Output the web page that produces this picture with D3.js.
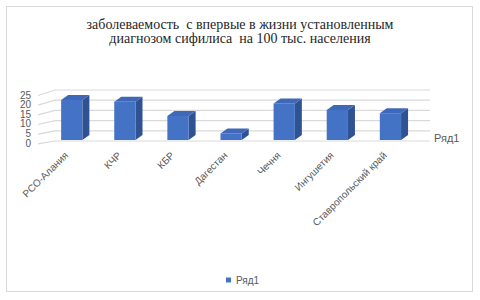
<!DOCTYPE html>
<html>
<head>
<meta charset="utf-8">
<script src="https://cdn.jsdelivr.net/npm/d3@7"></script>
<style>
  body { margin: 0; background: #fff; }
  svg { display: block; }
</style>
</head>
<body>
<svg id="chart" width="480" height="300"></svg>
<script>
const categories = ["РСО-Алания", "КЧР", "КБР", "Дагестан", "Чечня", "Ингушетия", "Ставропольский край"];
const values = [20, 19.1, 12, 3.3, 18.3, 15, 13.4];
const yTicks = [0, 5, 10, 15, 20, 25];
const seriesName = "Ряд1";
const titleLines = ["заболеваемость  с впервые в жизни установленным", "диагнозом сифилиса  на 100 тыс. населения"];

const svg = d3.select("#chart");
const grid = "#d9d9d9", textCol = "#595959";

// frame
svg.append("rect").attr("x", 6.5).attr("y", 6.5).attr("width", 466).attr("height", 285)
  .attr("fill", "none").attr("stroke", grid);

// title
svg.append("text").attr("x", 240).attr("y", 29).attr("text-anchor", "middle")
  .attr("font-family", "Liberation Serif, Times New Roman, serif").attr("font-size", 14).attr("fill", "#262626")
  .selectAll("tspan").data(titleLines).join("tspan")
  .attr("x", 240).attr("dy", (d, i) => i ? 14 : 0).attr("xml:space", "preserve").text(d => d);

// scales: front plane (bars), back wall, axis labels
const x = d3.scaleBand().domain(categories).range([45.2, 417]).paddingInner(0.6).paddingOuter(0.3);
const y = d3.scaleLinear().domain([0, 25]).range([140, 90]);
const yBack = d3.scaleLinear().domain([0, 25]).range([141, 90]);
const yLab = d3.scaleLinear().domain([0, 25]).range([143.3, 95]);
const depthX = 7, depthY = -5;

// gridlines (side wall + back wall)
svg.append("g").selectAll("path").data(yTicks).join("path")
  .attr("d", v => `M38,${yLab(v) + 0.5}L55,${yBack(v)}L430,${yBack(v)}`)
  .attr("fill", "none").attr("stroke", grid).attr("stroke-width", 1.2);

// y labels
svg.append("g").selectAll("text").data(yTicks).join("text")
  .attr("x", 31).attr("y", v => yLab(v)).attr("dy", "0.35em").attr("text-anchor", "end")
  .attr("font-family", "Liberation Sans, Arial, sans-serif").attr("font-size", 10).attr("fill", textCol)
  .text(v => v);

// bars
const bars = svg.append("g").selectAll("g").data(categories).join("g");
const bw = x.bandwidth();
bars.append("path") // side
  .attr("d", (c, i) => {
    const x1 = x(c) + bw, y0 = y(0), y1 = y(values[i]);
    return `M${x1},${y0}L${x1 + depthX},${y0 + depthY}L${x1 + depthX},${y1 + depthY}L${x1},${y1}Z`;
  }).attr("fill", "#2f5292");
bars.append("path") // top
  .attr("d", (c, i) => {
    const x0 = x(c), y1 = y(values[i]);
    return `M${x0},${y1}L${x0 + depthX},${y1 + depthY}L${x0 + bw + depthX},${y1 + depthY}L${x0 + bw},${y1}Z`;
  }).attr("fill", "#3f69b8");
bars.append("rect") // front
  .attr("x", c => x(c)).attr("width", bw)
  .attr("y", (c, i) => y(values[i])).attr("height", (c, i) => y(0) - y(values[i]))
  .attr("fill", "#4472c4");

// category labels
svg.append("g").selectAll("text").data(categories).join("text")
  .attr("transform", c => `translate(${x(c) + bw / 2 - 3},${156}) rotate(-45)`)
  .attr("text-anchor", "end")
  .attr("font-family", "Liberation Sans, Arial, sans-serif").attr("font-size", 10).attr("fill", textCol)
  .text(c => c);

// depth axis label
svg.append("text").attr("x", 434).attr("y", 138).attr("dy", "0.35em")
  .attr("font-family", "Liberation Sans, Arial, sans-serif").attr("font-size", 11).attr("fill", textCol)
  .text(seriesName);

// legend
const lg = svg.append("g");
lg.append("rect").attr("x", 226).attr("y", 277.5).attr("width", 5).attr("height", 5).attr("fill", "#4472c4");
lg.append("text").attr("x", 236).attr("y", 280).attr("dy", "0.35em")
  .attr("font-family", "Liberation Sans, Arial, sans-serif").attr("font-size", 10).attr("fill", textCol)
  .text(seriesName);
</script>
</body>
</html>
